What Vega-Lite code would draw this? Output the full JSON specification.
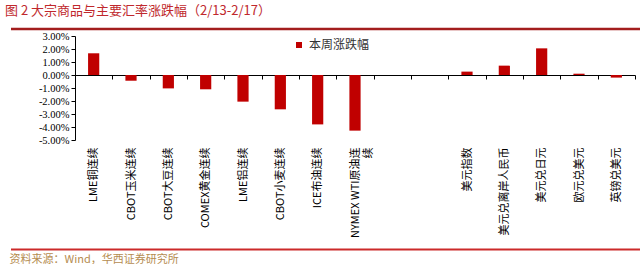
{
  "$schema": "https://vega.github.io/schema/vega-lite/v6.json",
  "padding": {"left": 5, "right": 5, "top": 4, "bottom": 0},
  "background": "white",
  "config": {
    "view": {"stroke": null},
    "font": "Liberation Sans Narrow, Noto Sans CJK SC"
  },
  "title": {
    "text": "图 2 大宗商品与主要汇率涨跌幅（2/13-2/17）",
    "anchor": "start",
    "fontSize": 13,
    "fontWeight": "normal",
    "color": "#c0282d",
    "font": "Liberation Sans Narrow, Noto Sans CJK SC",
    "offset": 10
  },
  "width": 630,
  "height": 104,
  "resolve": {"axis": {"y": "independent"}},
  "layer": [
    {
      "data": {
        "values": [
          {"item": "LME铜连续", "change": 1.67},
          {"item": "CBOT玉米连续", "change": -0.44},
          {"item": "CBOT大豆连续", "change": -1.03},
          {"item": "COMEX黄金连续", "change": -1.10},
          {"item": "LME铝连续", "change": -2.05},
          {"item": "CBOT小麦连续", "change": -2.64},
          {"item": "ICE布油连续", "change": -3.80},
          {"item": "NYMEX WTI原油连续", "change": -4.28},
          {"item": "_1", "change": null},
          {"item": "_2", "change": null},
          {"item": "美元指数", "change": 0.26},
          {"item": "美元兑离岸人民币", "change": 0.72},
          {"item": "美元兑日元", "change": 2.05},
          {"item": "欧元兑美元", "change": 0.10},
          {"item": "英镑兑美元", "change": -0.20}
        ]
      },
      "mark": {"type": "bar", "width": {"band": 0.3}},
      "encoding": {
        "x": {
          "field": "item",
          "type": "nominal",
          "sort": null,
          "scale": {
            "domain": ["LME铜连续", "CBOT玉米连续", "CBOT大豆连续", "COMEX黄金连续", "LME铝连续", "CBOT小麦连续", "ICE布油连续", "NYMEX WTI原油连续", "_1", "_2", "美元指数", "美元兑离岸人民币", "美元兑日元", "欧元兑美元", "英镑兑美元"],
            "range": [64, 624],
            "paddingInner": 0,
            "paddingOuter": 0
          },
          "axis": {
            "title": "资料来源：Wind，华西证券研究所",
            "titleAnchor": "start",
            "titleAlign": "left",
            "titleBaseline": "top",
            "titleX": -2,
            "titleY": 178,
            "titleFontSize": 11,
            "titleFontWeight": "normal",
            "titleColor": "#b58c50",
            "titleFont": "Liberation Sans Narrow, Noto Sans CJK SC",
            "offset": -65,
            "tickBand": "extent",
            "labelAngle": -90,
            "labelPadding": 68,
            "labelFontSize": 11,
            "labelColor": "#000000",
            "domainColor": "#000000",
            "tickColor": "#000000",
            "tickSize": 4,
            "labelLimit": 0,
            "labelExpr": "datum.value == 'NYMEX WTI原油连续' ? ['NYMEX WTI原油连', '续'] : ((datum.value == '_1' || datum.value == '_2') ? '' : datum.value)"
          }
        },
        "y": {
          "field": "change",
          "type": "quantitative",
          "scale": {"domain": [-5, 3], "nice": false, "zero": false},
          "axis": {
            "title": null,
            "orient": "left",
            "offset": -64,
            "values": [-5, -4, -3, -2, -1, 0, 1, 2, 3],
            "labelExpr": "replace(format(datum.value, '.2f'), '\u2212', '-') + '%'",
            "labelOverlap": false,
            "labelFont": "Liberation Sans Narrow",
            "grid": false,
            "domainColor": "#000000",
            "tickColor": "#000000",
            "tickSize": 4,
            "labelFontSize": 10.5,
            "labelColor": "#000000",
            "labelPadding": 2
          }
        },
        "color": {
          "datum": "本周涨跌幅",
          "scale": {"range": ["#c00000"]},
          "legend": {
            "title": null,
            "orient": "none",
            "legendX": 282,
            "legendY": 3,
            "symbolType": "square",
            "symbolSize": 36,
            "labelFontSize": 12,
            "labelColor": "#333333",
            "labelFont": "Noto Sans CJK SC",
            "padding": 0
          }
        }
      }
    },
    {
      "data": {"values": [{"line": "top", "level": 3.54}]},
      "mark": {"type": "rule", "color": "#a31d1d", "strokeWidth": 2.5},
      "encoding": {"y": {"field": "level", "type": "quantitative", "axis": null}}
    },
    {
      "data": {"values": [{"line": "bottom", "level": -13.42}]},
      "mark": {"type": "rule", "color": "#cc2a2a", "strokeWidth": 2},
      "encoding": {"y": {"field": "level", "type": "quantitative", "axis": null}}
    }
  ]
}
